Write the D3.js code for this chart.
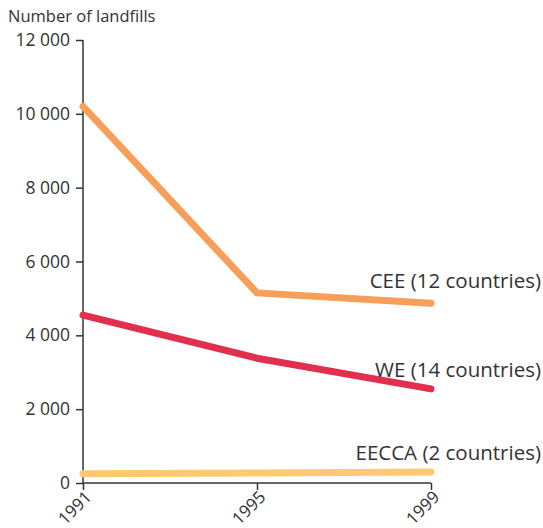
<!DOCTYPE html>
<html><head><meta charset="utf-8">
<script src="https://cdn.jsdelivr.net/npm/d3@7"></script>
<style>
body{margin:0;background:#fff;}
text{font-family:"Open Sans",sans-serif;fill:#333;}
</style></head>
<body><svg id="c" width="543" height="528"></svg>
<script>
const years = [1991, 1995, 1999];
const yTicks = [0, 2000, 4000, 6000, 8000, 10000, 12000];
const seriesNames = ["CEE (12 countries)", "WE (14 countries)", "EECCA (2 countries)"];
const ceeValues = [10200, 5150, 4870];
const weValues = [4550, 3380, 2550];
const eeccaValues = [250, 270, 300];
const colors = ["#F79E5A", "#E0304E", "#FFC974"];

const svg = d3.select("#c");
const x = d3.scalePoint().domain(years).range([83, 431]);
const y = d3.scaleLinear().domain([0, 12000]).range([483, 40]);

svg.append("text").attr("x", 8).attr("y", 22).attr("font-size", 16.5).text("Number of landfills");

const ya = svg.append("g").attr("transform", "translate(83,0)")
  .call(d3.axisLeft(y).tickValues(yTicks).tickSize(7).tickPadding(6).tickFormat(d => d3.format(",")(d).replace(/,/g, " ")));
ya.select(".domain").attr("d", "M0,40V483").attr("stroke", "#333").attr("stroke-width", 1.5);
ya.selectAll(".tick line").attr("stroke", "#333").attr("stroke-width", 1.5);
ya.selectAll(".tick text").attr("font-size", 17.5).attr("font-family", "Open Sans").attr("fill", "#333");

const xa = svg.append("g").attr("transform", "translate(0,483)")
  .call(d3.axisBottom(x).tickSize(7).tickPadding(2));
xa.select(".domain").attr("d", "M83,0H431").attr("stroke", "#333").attr("stroke-width", 1.5);
xa.selectAll(".tick line").attr("stroke", "#333").attr("stroke-width", 1.5);
xa.selectAll(".tick text").attr("font-size", 17).attr("font-family", "Open Sans").attr("fill", "#333")
  .attr("text-anchor", "end").attr("x", 0).attr("y", 0).attr("dy", "0.35em")
  .attr("transform", "translate(5,11) rotate(-45)");

const data = [ceeValues, weValues, eeccaValues];
const line = d3.line().x((d, i) => x(years[i])).y(d => y(d));
data.forEach((vals, k) => {
  svg.append("path").attr("d", line(vals)).attr("fill", "none")
    .attr("stroke", colors[k]).attr("stroke-width", 7)
    .attr("stroke-linecap", "round").attr("stroke-linejoin", "round");
});

const labelY = [288, 377, 460];
seriesNames.forEach((n, k) => {
  svg.append("text").attr("x", 541).attr("y", labelY[k]).attr("text-anchor", "end")
    .attr("font-size", 20.5).text(n);
});
</script></body></html>
